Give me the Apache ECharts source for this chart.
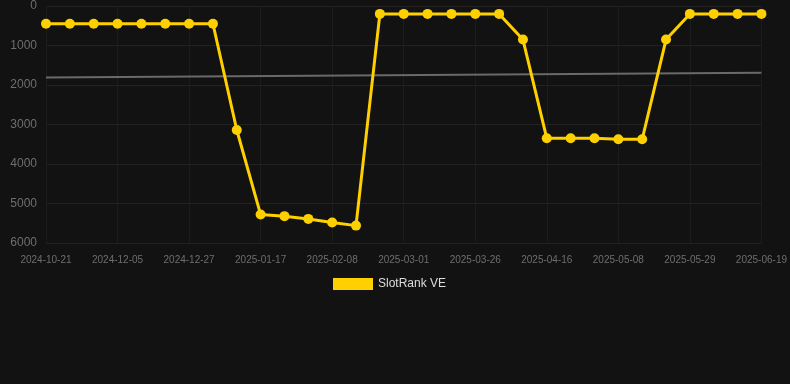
<!DOCTYPE html>
<html>
<head>
<meta charset="utf-8">
<script src="https://cdn.jsdelivr.net/npm/echarts@6/dist/echarts.min.js"></script>
<style>
  html, body { margin: 0; padding: 0; background: #121212; }
  #chart { width: 790px; height: 384px; }
</style>
</head>
<body>
<div id="chart"></div>
<script>
// x positions: every point is a sampled date, only every 3rd gets a label
const dates = [
  "2024-10-21", "2024-10-28", "2024-11-20", "2024-12-05", "2024-12-10", "2024-12-15",
  "2024-12-27", "2025-01-03", "2025-01-10", "2025-01-17", "2025-01-24", "2025-02-01",
  "2025-02-08", "2025-02-15", "2025-02-22", "2025-03-01", "2025-03-10", "2025-03-18",
  "2025-03-26", "2025-04-02", "2025-04-09", "2025-04-16", "2025-04-23", "2025-05-01",
  "2025-05-08", "2025-05-15", "2025-05-22", "2025-05-29", "2025-06-05", "2025-06-12",
  "2025-06-19"
];
const rankValues = [
  450, 450, 450, 450, 450, 450, 450, 450, 3140, 5280,
  5320, 5390, 5480, 5560, 200, 200, 200, 200, 200, 200,
  850, 3350, 3350, 3350, 3375, 3375, 850, 200, 200, 200,
  200
];
// trend line endpoints [index, value]
const trendPoints = [[0, 1810], [30, 1690]];
const yTicks = { min: 0, max: 6000, interval: 1000 };

const chart = echarts.init(document.getElementById("chart"));

chart.setOption({
  backgroundColor: "#121212",
  animation: false,
  grid: { left: 46, right: 28, top: 6, bottom: 141 },
  legend: {
    top: 278,
    left: 333,
    data: ["SlotRank VE"],
    itemWidth: 40,
    itemHeight: 12,
    itemGap: 6,
    padding: 0,
    icon: "rect",
    textStyle: { color: "#dddddd", fontSize: 12, fontFamily: "Liberation Sans, Arial" },
  },
  xAxis: {
    type: "category",
    data: dates,
    boundaryGap: false,
    axisLine: { show: false },
    axisTick: { show: false },
    axisLabel: {
      color: "#6e6e6e",
      fontSize: 10,
      fontFamily: "Liberation Sans, Arial",
      interval: 2,
      margin: 12,
    },
    splitLine: { show: true, interval: 2, lineStyle: { color: "#1c1c1c" } },
  },
  yAxis: {
    type: "value",
    inverse: true,
    min: yTicks.min,
    max: yTicks.max,
    interval: yTicks.interval,
    axisLine: { show: false },
    axisTick: { show: false },
    axisLabel: {
      color: "#6e6e6e",
      fontSize: 12,
      fontFamily: "Liberation Sans, Arial",
      margin: 9,
      formatter: (v) => String(v),
    },
    splitLine: { lineStyle: { color: "#222222" } },
  },
  series: [
    {
      name: "SlotRank VE",
      type: "line",
      data: rankValues,
      symbol: "circle",
      symbolSize: 10,
      lineStyle: { width: 3, color: "#ffd000" },
      itemStyle: { color: "#ffd000" },
      z: 3,
    },
    {
      name: "trend",
      type: "line",
      data: trendPoints,
      symbol: "none",
      lineStyle: { width: 2, color: "#6a6a6a" },
      z: 2,
      silent: true,
    },
  ],
});
</script>
</body>
</html>
